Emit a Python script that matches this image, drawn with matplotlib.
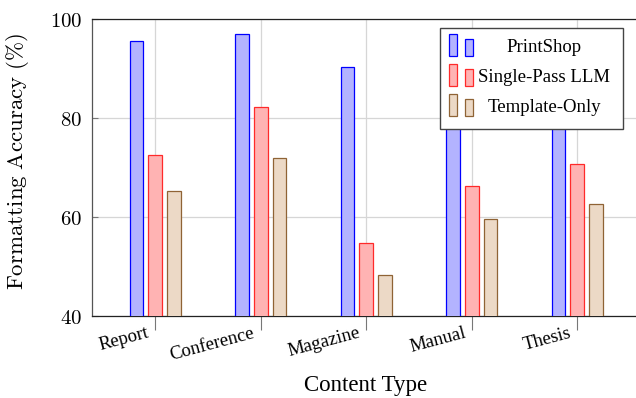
import matplotlib
matplotlib.use("Agg")
import matplotlib.pyplot as plt
from matplotlib.patches import Rectangle
from matplotlib.transforms import ScaledTranslation
import numpy as np

categories = ["Report", "Conference", "Magazine", "Manual", "Thesis"]
series_names = ["PrintShop", "Single-Pass LLM", "Template-Only"]
printshop = [95.5, 97.0, 90.4, 93.5, 94.8]
single_pass = [72.6, 82.2, 54.8, 66.3, 70.8]
template_only = [65.3, 71.9, 48.2, 59.5, 62.6]
yticks = [40, 60, 80, 100]

fills = ["#b3b3ff", "#ffb3b3", "#ecd9c6"]
edges = ["#0000ff", "#ff2a2a", "#8f6335"]

plt.rcParams['mathtext.fontset'] = 'cm'
serif = ["Liberation Serif", "DejaVu Serif"]

fig = plt.figure(figsize=(6.36, 3.98), dpi=100)
ax = fig.add_axes([92/636, 82/398, 548.5/636, 297/398])

x = np.arange(len(categories))
width = 0.13
offs = [-0.178, 0.0, 0.178]
for vals, o, fc, ec in zip([printshop, single_pass, template_only], offs, fills, edges):
    ax.bar(x + o, vals, width=width, bottom=0, color=fc, edgecolor=ec, linewidth=0.9, zorder=3)

ax.set_xlim(-0.6, len(categories) - 1 + 0.6)
ax.set_ylim(40, 100)
ax.set_yticks(yticks)
ax.set_yticklabels([f"${v}$" for v in yticks], fontsize=15)
ax.set_xticks(x)
ax.set_xticklabels([""] * len(categories))
shift = ScaledTranslation(-0.085, -0.085, fig.dpi_scale_trans)
for xi, cat in zip(x, categories):
    ax.text(xi, 0, cat, transform=ax.get_xaxis_transform() + shift, rotation=15,
            ha='right', va='top', rotation_mode='anchor', fontsize=13.5, family=serif,
            clip_on=False)
ax.tick_params(axis='x', direction='out', length=10, width=0.8, color='#777777', pad=3)
ax.tick_params(axis='y', direction='in', length=4, width=0.8, color='#777777', pad=7)
ax.grid(True, color='#d6d6d6', linewidth=0.9, zorder=0)
ax.set_axisbelow(True)
for s in ax.spines.values():
    s.set_color('#222222')
    s.set_linewidth(0.9)
ax.spines['left'].set_color('#555555')

fig.text(18/636, 1 - 161/398, r'$\mathrm{Formatting\ Accuracy\ (\%)}$', rotation=90,
         ha='center', va='center', fontsize=16.5)
fig.text(366/636, 1 - 386/398, "Content Type", ha='center', va='center', fontsize=16.5, family=serif)

# legend drawn manually (pgfplots-style double-bar markers)
W, H = 548.5, 297.0
def ax_xy(px, py):
    return ((px - 92) / W, (316 - py) / H)
lx0, ly0 = ax_xy(440, 129)
lx1, ly1 = ax_xy(623, 28)
ax.add_patch(Rectangle((lx0, ly0), lx1 - lx0, ly1 - ly0, transform=ax.transAxes,
                       facecolor='white', edgecolor='#444444', linewidth=1.0, zorder=10, clip_on=False))
for i, (name, fc, ec) in enumerate(zip(series_names, fills, edges)):
    base = 56 + 30 * i
    for (xa, xb, top) in [(448.5, 456.5, 34 + 30 * i), (464.5, 472.5, 39 + 30 * i)]:
        a0 = ax_xy(xa, base)
        a1 = ax_xy(xb, top)
        ax.add_patch(Rectangle(a0, a1[0] - a0[0], a1[1] - a0[1], transform=ax.transAxes,
                               facecolor=fc, edgecolor=ec, linewidth=0.9, zorder=11, clip_on=False))
    tx, ty = ax_xy(544, 48 + 30 * i)
    ax.text(tx, ty, name, transform=ax.transAxes, ha='center', va='center',
            fontsize=13.5, family=serif, zorder=12)

fig.savefig("out.png", dpi=100)
